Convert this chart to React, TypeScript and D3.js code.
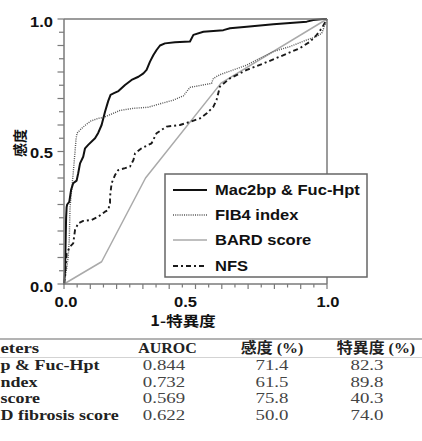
import React from 'react';
import * as d3 from 'd3';

// ---------- data ----------
const seriesNames = ['Mac2bp & Fuc-Hpt', 'FIB4 index', 'BARD score', 'NFS'];

const macFpr = [0, 0.004, 0.006, 0.008, 0.01, 0.012, 0.02, 0.027, 0.035, 0.048, 0.054, 0.061, 0.073, 0.08, 0.092, 0.118, 0.13, 0.143, 0.156, 0.168, 0.177, 0.19, 0.207, 0.232, 0.257, 0.283, 0.302, 0.314, 0.327, 0.34, 0.352, 0.365, 0.384, 0.422, 0.479, 0.492, 0.53, 0.606, 0.631, 0.695, 0.796, 0.923, 0.948, 0.986, 1];
const macTpr = [0, 0.05, 0.15, 0.25, 0.29, 0.3, 0.31, 0.355, 0.38, 0.39, 0.418, 0.455, 0.48, 0.512, 0.525, 0.55, 0.57, 0.6, 0.65, 0.69, 0.714, 0.72, 0.728, 0.751, 0.77, 0.782, 0.795, 0.808, 0.839, 0.864, 0.883, 0.9, 0.908, 0.912, 0.915, 0.94, 0.952, 0.958, 0.965, 0.971, 0.98, 0.99, 0.996, 1, 1];

const fibFpr = [0, 0.005, 0.012, 0.016, 0.02, 0.023, 0.029, 0.035, 0.042, 0.046, 0.05, 0.067, 0.082, 0.102, 0.13, 0.149, 0.187, 0.213, 0.264, 0.32, 0.365, 0.416, 0.454, 0.479, 0.517, 0.561, 0.568, 0.593, 0.644, 0.695, 0.745, 0.796, 0.859, 0.923, 0.961, 0.98, 0.992, 1];
const fibTpr = [0, 0.03, 0.07, 0.103, 0.166, 0.29, 0.355, 0.418, 0.5, 0.55, 0.57, 0.587, 0.6, 0.615, 0.625, 0.628, 0.644, 0.655, 0.663, 0.667, 0.68, 0.694, 0.71, 0.742, 0.749, 0.757, 0.776, 0.79, 0.808, 0.826, 0.852, 0.877, 0.896, 0.921, 0.934, 0.946, 0.977, 1];

const bardFpr = [0, 0.143, 0.31, 0.597, 1];
const bardTpr = [0, 0.084, 0.4, 0.758, 1];

const nfsFpr = [0, 0.004, 0.01, 0.023, 0.035, 0.042, 0.054, 0.073, 0.105, 0.13, 0.156, 0.168, 0.175, 0.175, 0.181, 0.194, 0.206, 0.232, 0.251, 0.264, 0.27, 0.295, 0.333, 0.352, 0.39, 0.441, 0.479, 0.517, 0.543, 0.568, 0.58, 0.593, 0.631, 0.695, 0.758, 0.821, 0.897, 0.935, 0.961, 0.98, 1];
const nfsTpr = [0, 0.028, 0.116, 0.141, 0.153, 0.204, 0.229, 0.238, 0.242, 0.254, 0.273, 0.279, 0.305, 0.329, 0.38, 0.411, 0.43, 0.437, 0.443, 0.468, 0.493, 0.512, 0.531, 0.569, 0.594, 0.6, 0.612, 0.625, 0.644, 0.669, 0.694, 0.745, 0.776, 0.808, 0.832, 0.858, 0.89, 0.914, 0.94, 0.965, 1];

const xTickLabels = ['0.0', '0.5', '1.0'];
const yTickLabels = ['0.0', '0.5', '1.0'];
const xTitle = '1-特異度';
const yTitle = '感度';

// the reference is cropped at its left edge: these are the visible parts
const tableHeader = ['eters', 'AUROC', '感度 (%)', '特異度 (%)'];
const tableRowNames = ['p & Fuc-Hpt', 'ndex', 'score', 'D fibrosis score'];
const aurocValues = ['0.844', '0.732', '0.569', '0.622'];
const sensValues = ['71.4', '61.5', '75.8', '50.0'];
const specValues = ['82.3', '89.8', '40.3', '74.0'];

// ---------- layout / style ----------
const W = 422;
const H = 441;
const X0 = 64, X1 = 327, Y0 = 284, Y1 = 19;
const STRETCH = 1.18;
const AX = '#7a7a7a';
const SANS = 'Liberation Sans, Arial, sans-serif';
const SERIF = 'Liberation Serif, Times New Roman, serif';
const CJK = 'Noto Sans CJK JP, sans-serif';

const styles = [
  { stroke: '#111', width: 2, dash: undefined as string | undefined },
  { stroke: '#555', width: 1.4, dash: '1,1.2' },
  { stroke: '#aaa', width: 1.5, dash: undefined },
  { stroke: '#1a1a1a', width: 1.9, dash: '5,3,2,3' },
];

export default function App() {
  const x = d3.scaleLinear().domain([0, 1]).range([X0, X1]);
  const y = d3.scaleLinear().domain([0, 1]).range([Y0, Y1]);
  const line = d3.line<[number, number]>().x(d => x(d[0])).y(d => y(d[1]));

  const series: [number[], number[]][] = [
    [macFpr, macTpr],
    [fibFpr, fibTpr],
    [bardFpr, bardTpr],
    [nfsFpr, nfsTpr],
  ];
  const drawOrder = [2, 3, 1, 0];

  const ticks = d3.range(0, 21).map(i => i / 20);
  const xLabelDx = [2, -10, 1];
  const xLabelVals = xTickLabels.map(Number);
  const yLabelVals = yTickLabels.map(Number);

  // legend
  const lg = { x: 165, y: 174, w: 202, h: 103 };
  const lgRowY = [190, 215, 240, 266];

  // table
  const ruleY = 339;
  const rule2Y = 357.5;
  const headerY = 353;
  const rowY = [370, 386.5, 403, 419.5];
  const headerX = [0.5, 167.5, 272, 376];
  const valueX = [164, 272, 367];
  const TS = 1.1;

  return (
    <svg width={W} height={H} viewBox={`0 0 ${W} ${H}`}
      style={{ position: 'absolute', left: 0, top: 0, background: '#fff' }}>
      <rect x={0} y={0} width={W} height={H} fill="#fff" />
      {/* curves */}
      <g>
        {drawOrder.map(i => {
          const [fx, ty] = series[i];
          const pts = fx.map((v, k) => [v, ty[k]] as [number, number]);
          const s = styles[i];
          return (
            <path key={i} d={line(pts) || ''} fill="none" stroke={s.stroke}
              strokeWidth={s.width} strokeDasharray={s.dash} strokeLinejoin="round" />
          );
        })}
      </g>
      {/* frame */}
      <line x1={x(0)} x2={x(1)} y1={y(1)} y2={y(1)} stroke={AX} strokeWidth={1.5} />
      <line x1={x(1)} x2={x(1)} y1={y(1)} y2={y(0)} stroke={AX} strokeWidth={1.5} />
      {/* x axis */}
      <line x1={x(0) - 1} x2={x(1)} y1={y(0)} y2={y(0)} stroke={AX} strokeWidth={1.5} />
      {ticks.map((t, i) => (
        <line key={'xt' + i} x1={x(t)} x2={x(t)} y1={y(0)} y2={y(0) + (i % 2 === 0 ? 5 : 3.5)}
          stroke={AX} strokeWidth={1.2} />
      ))}
      {xLabelVals.map((v, i) => (
        <g key={'xl' + i} transform={`translate(${x(v) + xLabelDx[i]},${y(0) + 23})`}>
          <text transform={`scale(${STRETCH},1)`} textAnchor="middle" fontFamily={SANS}
            fontWeight="bold" fontSize={14} fill="#111">{xTickLabels[i]}</text>
        </g>
      ))}
      <g transform={`translate(183,325.5)`}>
        <text transform={`scale(${STRETCH},1)`} textAnchor="middle" fontFamily={CJK}
          fontWeight="bold" fontSize={14} fill="#111">{xTitle}</text>
      </g>
      {/* y axis */}
      <line x1={x(0)} x2={x(0)} y1={y(0) + 1} y2={y(1)} stroke={AX} strokeWidth={1.5} />
      {ticks.map((t, i) => (
        <line key={'yt' + i} x1={x(0)} x2={x(0) - (i % 2 === 0 ? 6.5 : 5)} y1={y(t)} y2={y(t)}
          stroke={AX} strokeWidth={1.2} />
      ))}
      {yLabelVals.map((v, i) => (
        <g key={'yl' + i} transform={`translate(53,${y(v) + (v === 0.5 ? 6.5 : 8)})`}>
          <text transform={`scale(${STRETCH},1)`} textAnchor="end" fontFamily={SANS}
            fontWeight="bold" fontSize={14} fill="#111">{yTickLabels[i]}</text>
        </g>
      ))}
      <text transform={`translate(24.5,143) rotate(-90)`} textAnchor="middle" fontFamily={CJK}
        fontWeight="bold" fontSize={14} fill="#111">{yTitle}</text>
      {/* legend */}
      <rect x={lg.x} y={lg.y} width={lg.w} height={lg.h} fill="#fff" stroke="#666" strokeWidth={1.5} />
      {seriesNames.map((name, i) => {
        const s = styles[i];
        return (
          <g key={'lg' + i}>
            <line x1={173} x2={207} y1={lgRowY[i]} y2={lgRowY[i]} stroke={s.stroke}
              strokeWidth={s.width} strokeDasharray={s.dash} />
            <g transform={`translate(215,${lgRowY[i] + 5})`}>
              <text transform={`scale(${STRETCH},1)`} fontFamily={SANS} fontWeight="bold"
                fontSize={14} fill="#111">{name}</text>
            </g>
          </g>
        );
      })}
      {/* table */}
      <line x1={0} x2={W} y1={ruleY} y2={ruleY} stroke="#9a9a9a" strokeWidth={1.5} />
      <line x1={0} x2={W} y1={rule2Y} y2={rule2Y} stroke="#c8c8c8" strokeWidth={0.8} />
      {tableHeader.map((h, i) => (
        <g key={'th' + i} transform={`translate(${headerX[i]},${headerY})`}>
          <text transform={`scale(${i === 0 ? 1.3 : TS},1)`} textAnchor={i === 0 ? 'start' : 'middle'}
            fontFamily={i >= 2 ? `${SERIF}, Noto Sans CJK JP` : SERIF} fontWeight="bold"
            fontSize={14.5} fill="#222">{h}</text>
        </g>
      ))}
      {tableRowNames.map((r, i) => (
        <g key={'tr' + i}>
          <g transform={`translate(0.5,${rowY[i]})`}>
            <text transform={`scale(1.24,1)`} fontFamily={SERIF} fontWeight="bold"
              fontSize={14.5} fill="#222">{r}</text>
          </g>
          {[aurocValues[i], sensValues[i], specValues[i]].map((v, j) => (
            <g key={'tv' + j} transform={`translate(${valueX[j]},${rowY[i]})`}>
              <text transform={`scale(1.3,1)`} textAnchor="middle" fontFamily={SERIF}
                fontSize={14.5} fill="#444">{v}</text>
            </g>
          ))}
        </g>
      ))}
    </svg>
  );
}
